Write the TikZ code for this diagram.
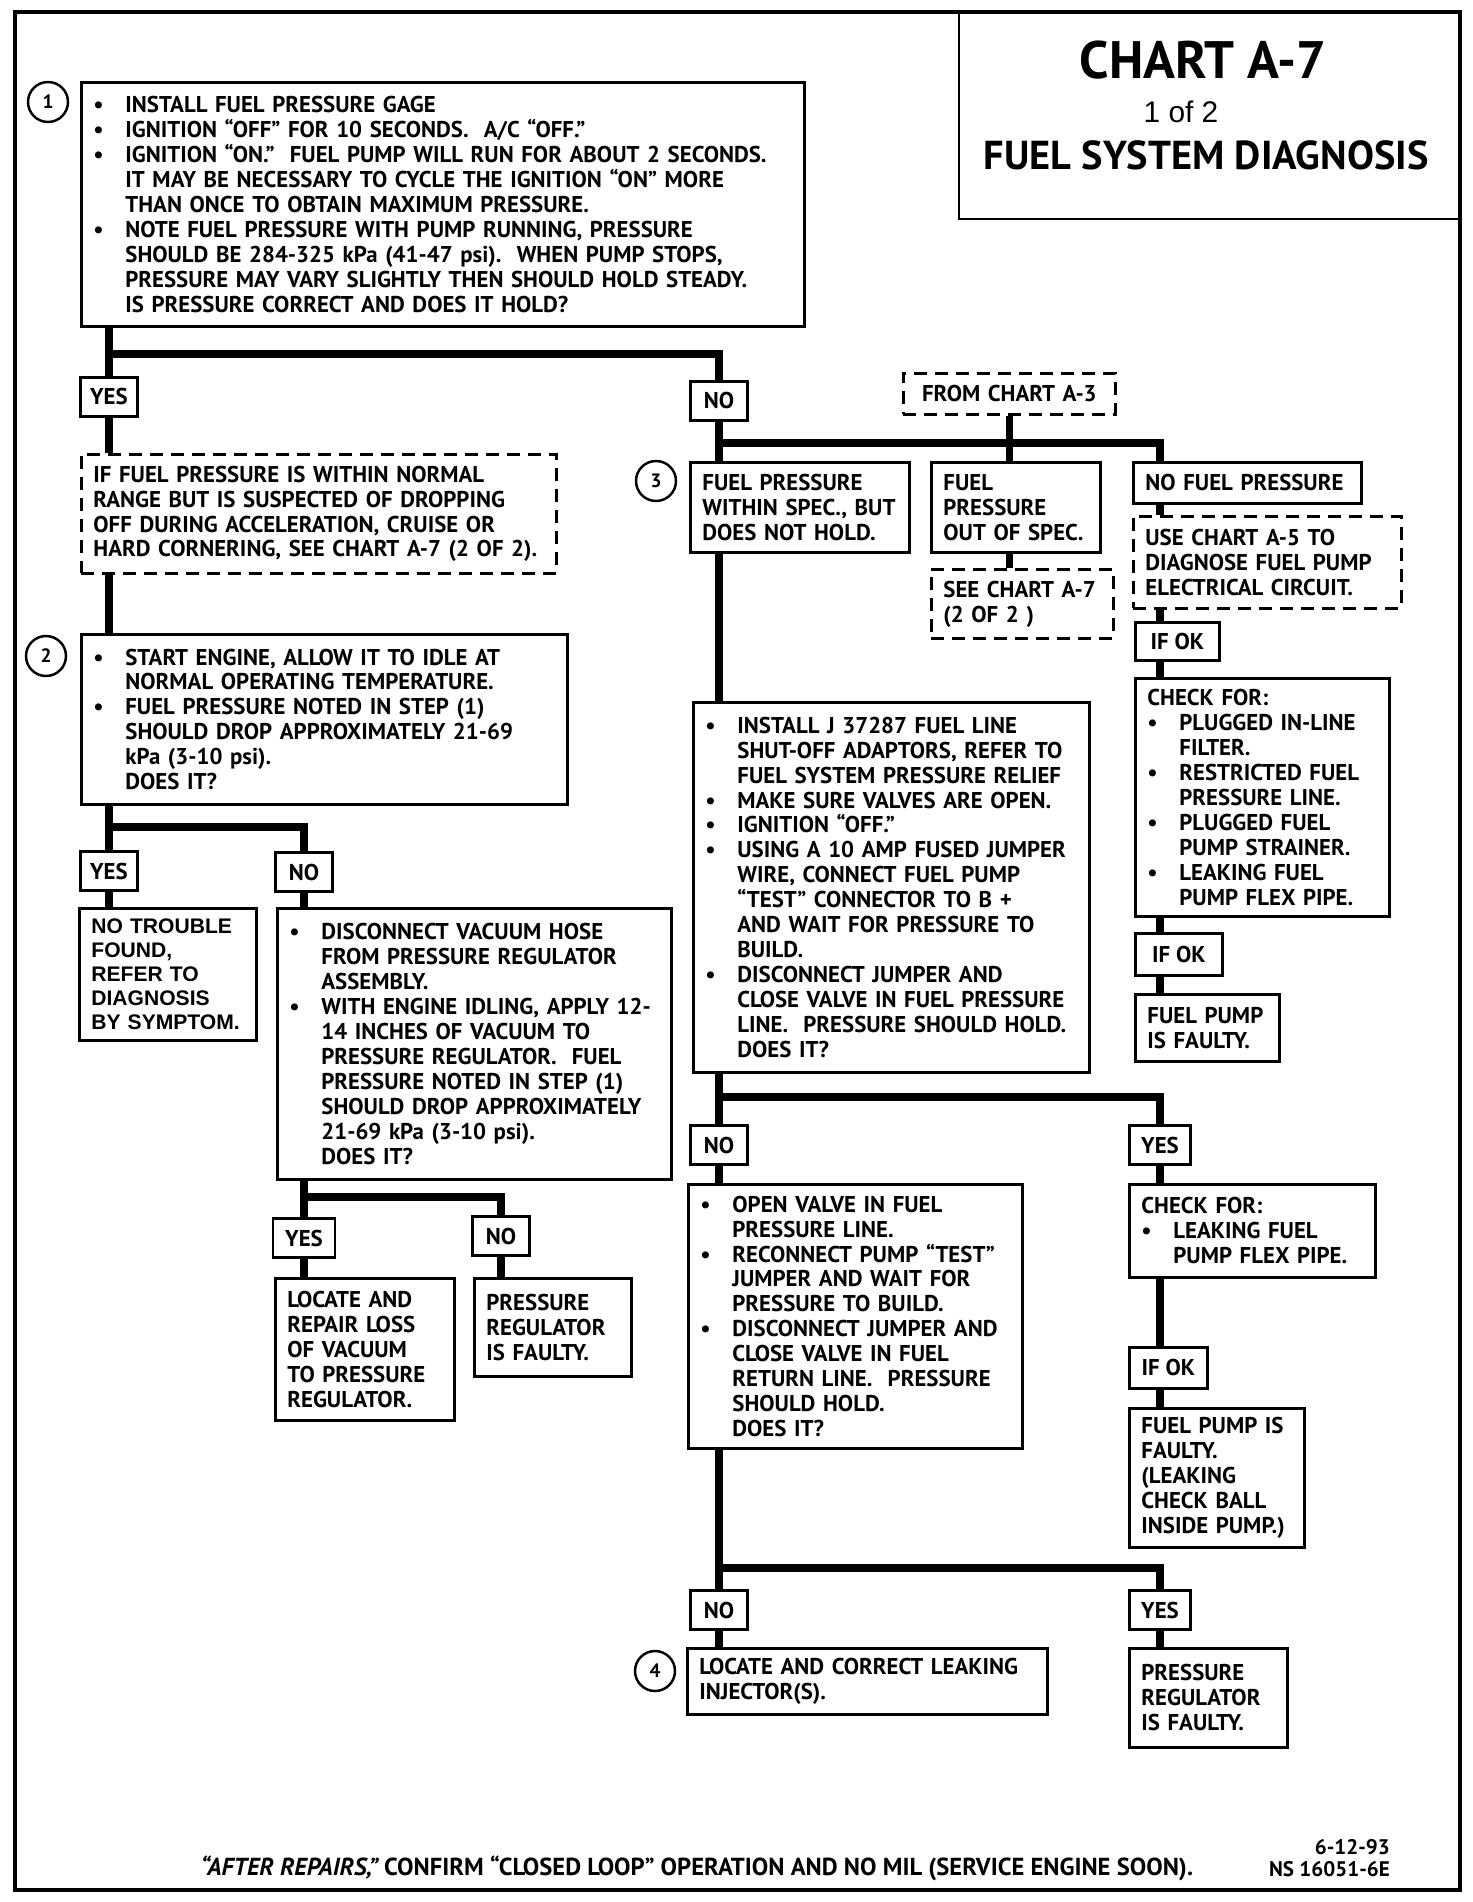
\documentclass[tikz,border=0pt]{standalone}
\usepackage{fontspec}
\setmainfont{PT Sans}
\newfontfamily\helv{Liberation Sans}
\newcommand\bul{\makebox[0.64cm][l]{\textbullet}}
\newcommand\ind{\hspace*{0.64cm}}
\begin{document}
\begin{tikzpicture}[x=0.02cm,y=-0.02cm,
  every node/.style={font=\fontsize{13}{14.2}\selectfont\bfseries},
  box/.style={draw,line width=1.6pt,anchor=north west,align=left,inner xsep=0.24cm,inner ysep=1pt},
  dbox/.style={box,dash pattern=on 0.26cm off 0.16cm},
  tag/.style={draw,line width=1.6pt,minimum width=1.14cm,minimum height=0.78cm,inner sep=0pt},
  flow/.style={line width=4.2pt},
  num/.style={circle,draw,line width=1.4pt,minimum size=0.8cm,inner sep=0pt,font=\fontsize{11}{12}\selectfont\bfseries}]
\useasboundingbox (0,0) rectangle (1472,1902);
\draw[line width=2.8pt] (15,12) rectangle (1460,1890);
% title block
\node[draw,line width=1.4pt,anchor=north west,minimum width=10.04cm,minimum height=4.12cm] (title) at (958,12) {};
\node[font=\fontsize{30}{32}\selectfont\bfseries] (ttlA) at (1203,60) {CHART A-7};
\node[font=\fontsize{17}{18}\selectfont\helv] (ttlB) at (1181,112) {1 of 2};
\node[font=\fontsize{23}{24}\selectfont\bfseries] (ttlC) at (1206,155) {FUEL SYSTEM DIAGNOSIS};
% left column
\node[num] (n1) at (48,102) {1};
\node[box,text width=13.98cm,minimum height=4.88cm] (step1) at (80,81) {\bul INSTALL FUEL PRESSURE GAGE\\
\bul IGNITION “OFF” FOR 10 SECONDS.\ \ A/C “OFF.”\\
\bul IGNITION “ON.”\ \ FUEL PUMP WILL RUN FOR ABOUT 2 SECONDS.\\
\ind IT MAY BE NECESSARY TO CYCLE THE IGNITION “ON” MORE\\
\ind THAN ONCE TO OBTAIN MAXIMUM PRESSURE.\\
\bul NOTE FUEL PRESSURE WITH PUMP RUNNING, PRESSURE\\
\ind SHOULD BE 284-325 kPa (41-47 psi).\ \ WHEN PUMP STOPS,\\
\ind PRESSURE MAY VARY SLIGHTLY THEN SHOULD HOLD STEADY.\\
\ind IS PRESSURE CORRECT AND DOES IT HOLD?};
\node[tag] (yes1) at (109,397) {YES};
\node[tag] (no1) at (719,401) {NO};
\node[dbox,text width=9.02cm,minimum height=2.38cm] (highnote) at (80,453) {IF FUEL PRESSURE IS WITHIN NORMAL\\
RANGE BUT IS SUSPECTED OF DROPPING\\
OFF DURING ACCELERATION, CRUISE OR\\
HARD CORNERING, SEE CHART A-7 (2 OF 2).};
\node[num] (n2) at (46,656) {2};
\node[box,text width=9.24cm,minimum height=3.4cm] (step2) at (80,633) {\bul START ENGINE, ALLOW IT TO IDLE AT\\
\ind NORMAL OPERATING TEMPERATURE.\\
\bul FUEL PRESSURE NOTED IN STEP (1)\\
\ind SHOULD DROP APPROXIMATELY 21-69\\
\ind kPa (3-10 psi).\\
\ind DOES IT?};
\node[tag] (yes2) at (109,871) {YES};
\node[tag] (no2) at (304,872) {NO};
\node[box,text width=3.06cm,minimum height=2.64cm,font=\fontsize{12}{13.6}\selectfont\helv\bfseries] (notrouble) at (78,907) {NO TROUBLE\\
FOUND,\\
REFER TO\\
DIAGNOSIS\\
BY SYMPTOM.};
\node[box,text width=7.40cm,minimum height=5.42cm] (vacuum) at (276,907) {\bul DISCONNECT VACUUM HOSE\\
\ind FROM PRESSURE REGULATOR\\
\ind ASSEMBLY.\\
\bul WITH ENGINE IDLING, APPLY 12-\\
\ind 14 INCHES OF VACUUM TO\\
\ind PRESSURE REGULATOR.\ \ FUEL\\
\ind PRESSURE NOTED IN STEP (1)\\
\ind SHOULD DROP APPROXIMATELY\\
\ind 21-69 kPa (3-10 psi).\\
\ind DOES IT?};
\node[tag,minimum width=1.24cm] (yes3) at (304,1238) {YES};
\node[tag] (no3) at (501,1236) {NO};
\node[box,text width=3.10cm,minimum height=2.84cm] (repairvac) at (274,1277) {LOCATE AND\\
REPAIR LOSS\\
OF VACUUM\\
TO PRESSURE\\
REGULATOR.};
\node[box,text width=2.66cm,minimum height=1.96cm] (regfault) at (473,1277) {PRESSURE\\
REGULATOR\\
IS FAULTY.};
% right part
\coordinate (rc) at (1160,0);
\node[dbox,align=center,text width=3.76cm,minimum height=0.82cm] (fromA3) at (902,372) {FROM CHART A-3};
\node[num] (n3) at (656,481) {3};
\node[box,text width=3.90cm,minimum height=1.8cm] (step3a) at (689,461) {FUEL PRESSURE\\
WITHIN SPEC., BUT\\
DOES NOT HOLD.};
\node[box,text width=2.90cm,minimum height=1.8cm] (step3b) at (930,461) {FUEL\\
PRESSURE\\
OUT OF SPEC.};
\node[box,text width=4.08cm,minimum height=0.82cm] (step3c) at (1132,461) {NO FUEL PRESSURE};
\node[dbox,text width=3.16cm,minimum height=1.38cm] (seeA7) at (930,568) {SEE CHART A-7\\
(2 OF 2 )};
\node[dbox,text width=4.88cm,minimum height=1.84cm] (useA5) at (1132,515) {USE CHART A-5 TO\\
DIAGNOSE FUEL PUMP\\
ELECTRICAL CIRCUIT.};
\node[tag,anchor=north west,minimum width=1.68cm,minimum height=0.76cm] (ifok1) at (1134,621) {IF OK};
\node[box,text width=4.60cm,minimum height=4.76cm] (checkA) at (1134,677) {CHECK FOR:\\
\bul PLUGGED IN-LINE\\
\ind FILTER.\\
\bul RESTRICTED FUEL\\
\ind PRESSURE LINE.\\
\bul PLUGGED FUEL\\
\ind PUMP STRAINER.\\
\bul LEAKING FUEL\\
\ind PUMP FLEX PIPE.};
\node[tag,anchor=north west,minimum width=1.74cm,minimum height=0.84cm] (ifok2) at (1134,932) {IF OK};
\node[box,text width=2.40cm,minimum height=1.34cm] (pumpfault) at (1134,993) {FUEL PUMP\\
IS FAULTY.};
\node[box,text width=7.44cm,minimum height=7.4cm] (jumper) at (692,701) {\bul INSTALL J 37287 FUEL LINE\\
\ind SHUT-OFF ADAPTORS, REFER TO\\
\ind FUEL SYSTEM PRESSURE RELIEF\\
\bul MAKE SURE VALVES ARE OPEN.\\
\bul IGNITION “OFF.”\\
\bul USING A 10 AMP FUSED JUMPER\\
\ind WIRE, CONNECT FUEL PUMP\\
\ind “TEST” CONNECTOR TO B +\\
\ind AND WAIT FOR PRESSURE TO\\
\ind BUILD.\\
\bul DISCONNECT JUMPER AND\\
\ind CLOSE VALVE IN FUEL PRESSURE\\
\ind LINE.\ \ PRESSURE SHOULD HOLD.\\
\ind DOES IT?};
\node[tag] (no4) at (719,1145) {NO};
\node[tag,minimum width=1.22cm] (yes4) at (1160,1145) {YES};
\node[box,text width=6.20cm,minimum height=5.28cm] (openvalve) at (687,1183) {\bul OPEN VALVE IN FUEL\\
\ind PRESSURE LINE.\\
\bul RECONNECT PUMP “TEST”\\
\ind JUMPER AND WAIT FOR\\
\ind PRESSURE TO BUILD.\\
\bul DISCONNECT JUMPER AND\\
\ind CLOSE VALVE IN FUEL\\
\ind RETURN LINE.\ \ PRESSURE\\
\ind SHOULD HOLD.\\
\ind DOES IT?};
\node[box,text width=4.44cm,minimum height=1.86cm] (checkB) at (1128,1183) {CHECK FOR:\\
\bul LEAKING FUEL\\
\ind PUMP FLEX PIPE.};
\node[tag,anchor=north west,minimum width=1.56cm,minimum height=0.82cm] (ifok3) at (1128,1346) {IF OK};
\node[box,text width=3.02cm,minimum height=2.78cm] (pumpball) at (1128,1407) {FUEL PUMP IS\\
FAULTY.\\
(LEAKING\\
CHECK BALL\\
INSIDE PUMP.)};
\node[tag] (no5) at (719,1610) {NO};
\node[tag,minimum width=1.22cm] (yes5) at (1160,1610) {YES};
\node[num] (n4) at (655,1671) {4};
\node[box,text width=6.72cm,minimum height=1.32cm] (injector) at (686,1647) {LOCATE AND CORRECT LEAKING\\
INJECTOR(S).};
\node[box,text width=2.68cm,minimum height=1.98cm] (regfaultB) at (1128,1647) {PRESSURE\\
REGULATOR\\
IS FAULTY.};
% footer
\node[font=\fontsize{14}{15}\selectfont\bfseries] (foot) at (697,1868) {{\itshape “AFTER REPAIRS,”}\ CONFIRM “CLOSED LOOP” OPERATION AND NO MIL (SERVICE ENGINE SOON).};
\node[anchor=east,align=right,font=\fontsize{12}{12.5}\selectfont\bfseries] (stamp) at (1396,1858) {6-12-93\\NS 16051-6E};
% connectors
\coordinate (j1) at (109,354);
\draw[flow] (step1.south -| yes1) -- (yes1.north);
\draw[flow] (j1) -| (no1.north);
\draw[flow] (yes1.south) -- (highnote.north -| yes1);
\draw[flow] (highnote.south -| yes1) -- (step2.north -| yes1);
\coordinate (j2) at (109,827);
\draw[flow] (step2.south -| yes2) -- (yes2.north);
\draw[flow] (j2) -| (no2.north);
\draw[flow] (yes2.south) -- (notrouble.north -| yes2);
\draw[flow] (no2.south) -- (vacuum.north -| no2);
\coordinate (j3) at (304,1197);
\draw[flow] (vacuum.south -| yes3) -- (yes3.north);
\draw[flow] (j3) -| (no3.north);
\draw[flow] (yes3.south) -- (repairvac.north -| yes3);
\draw[flow] (no3.south) -- (regfault.north -| no3);
\coordinate (j4) at (719,443);
\draw[flow] (no1.south) -- (step3a.north -| no1);
\draw[flow] (j4) -| (step3c.north -| rc);
\draw[flow] (fromA3.south) -- (step3b.north -| fromA3);
\draw[flow] (step3b.south -| fromA3) -- (seeA7.north -| fromA3);
\draw[flow] (step3c.south -| rc) -- (useA5.north -| rc);
\draw[flow] (useA5.south -| rc) -- (ifok1.north -| rc);
\draw[flow] (ifok1.south -| rc) -- (checkA.north -| rc);
\draw[flow] (checkA.south -| rc) -- (ifok2.north -| rc);
\draw[flow] (ifok2.south -| rc) -- (pumpfault.north -| rc);
\draw[flow] (step3a.south -| no1) -- (jumper.north -| no1);
\coordinate (j5) at (719,1097);
\draw[flow] (jumper.south -| no4) -- (no4.north);
\draw[flow] (j5) -| (yes4.north);
\draw[flow] (no4.south) -- (openvalve.north -| no4);
\draw[flow] (yes4.south) -- (checkB.north -| yes4);
\draw[flow] (checkB.south -| yes4) -- (ifok3.north -| yes4);
\draw[flow] (ifok3.south -| yes4) -- (pumpball.north -| yes4);
\coordinate (j6) at (719,1568);
\draw[flow] (openvalve.south -| no5) -- (no5.north);
\draw[flow] (j6) -| (yes5.north);
\draw[flow] (no5.south) -- (injector.north -| no5);
\draw[flow] (yes5.south) -- (regfaultB.north -| yes5);
\end{tikzpicture}
\end{document}
